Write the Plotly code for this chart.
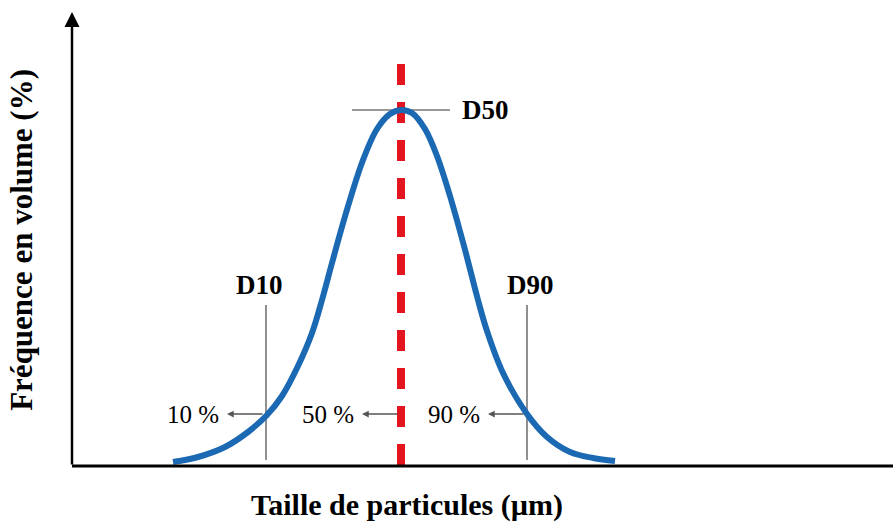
import plotly.graph_objects as go

# Bell curve (arbitrary units)
curve_x = [101, 126, 153, 176, 195, 210, 226, 240, 250, 260, 274, 291, 305, 318, 329,
           340, 353, 365, 378, 392, 406, 415, 431, 455, 475, 498, 521, 543]
curve_y = [4, 9, 19, 34, 51, 70, 100, 133, 166, 203, 253, 306, 337, 352, 356,
           353, 337, 310, 270, 220, 166, 135, 93, 52, 29, 14, 8, 5]

d_labels = ["D10", "D50", "D90"]
d_x = [194, 329, 455]
pct_labels = ["10 %", "50 %", "90 %"]
pct_y = 52
peak_y = 356
marker_top = 161
red_top = 418

X_MAX = 821
Y_MAX = 454

serif = "Liberation Serif, Times New Roman, serif"

fig = go.Figure()

# Red dashed median line
fig.add_trace(go.Scatter(x=[d_x[1], d_x[1]], y=[1, red_top], mode="lines",
                         line=dict(color="#e3161f", width=8, dash="21px,17px"),
                         hoverinfo="skip", showlegend=False))

# D10 / D90 vertical marker lines
for i in (0, 2):
    fig.add_trace(go.Scatter(x=[d_x[i], d_x[i]], y=[6, marker_top], mode="lines",
                             line=dict(color="#6b6b6b", width=1.5),
                             hoverinfo="skip", showlegend=False))

# D50 horizontal line at the peak
fig.add_trace(go.Scatter(x=[d_x[1] - 49, d_x[1] + 49], y=[peak_y, peak_y], mode="lines",
                         line=dict(color="#777777", width=1.5),
                         hoverinfo="skip", showlegend=False))

# Distribution curve
fig.add_trace(go.Scatter(x=curve_x, y=curve_y, mode="lines",
                         line=dict(color="#1c69b3", width=6, shape="spline", smoothing=1.0),
                         hoverinfo="skip", showlegend=False))

dfont = dict(family=serif, size=27, color="black")
pfont = dict(family=serif, size=25, color="black")

annotations = []
# D labels
annotations.append(dict(x=d_x[0] - 7, y=181, text="<b>" + d_labels[0] + "</b>", showarrow=False, font=dfont))
annotations.append(dict(x=d_x[1] + 59, y=peak_y, text="<b>" + d_labels[1] + "</b>", showarrow=False,
                        xanchor="left", font=dfont))
annotations.append(dict(x=d_x[2] + 3, y=181, text="<b>" + d_labels[2] + "</b>", showarrow=False, font=dfont))

# Percent arrows and labels
for i in range(3):
    tip = d_x[i] - 39
    annotations.append(dict(x=tip, y=pct_y, ax=d_x[i] - 2, ay=pct_y, axref="x", ayref="y",
                            xref="x", yref="y", text="", showarrow=True,
                            arrowhead=2, arrowsize=0.9, arrowwidth=1.5, arrowcolor="#555555"))
    annotations.append(dict(x=tip - 6, y=pct_y, text=pct_labels[i], showarrow=False,
                            xanchor="right", font=pfont))

# Y axis arrow
annotations.append(dict(x=0, y=Y_MAX, ax=0, ay=0, axref="x", ayref="y", xref="x", yref="y",
                        text="", showarrow=True, arrowhead=2, arrowsize=1.2, arrowwidth=2.5,
                        arrowcolor="black"))

# Axis titles
annotations.append(dict(xref="paper", yref="paper", x=0.408, y=-0.086, yanchor="middle",
                        text="<b>Taille de particules (µm)</b>", showarrow=False,
                        font=dict(family=serif, size=30, color="black")))
annotations.append(dict(xref="paper", yref="paper", x=-0.061, y=0.498, xanchor="center",
                        yanchor="middle",
                        text="<b>Fréquence en volume (%)</b>", showarrow=False, textangle=-90,
                        font=dict(family=serif, size=31, color="black")))

shapes = [
    dict(type="line", xref="paper", yref="paper", x0=0, x1=1, y0=0, y1=0,
         line=dict(color="black", width=3)),
]

fig.update_layout(
    width=893, height=527,
    margin=dict(l=72, r=0, t=12, b=61, autoexpand=False),
    paper_bgcolor="white", plot_bgcolor="white",
    xaxis=dict(range=[0, X_MAX], visible=False, fixedrange=True),
    yaxis=dict(range=[0, Y_MAX], visible=False, fixedrange=True),
    annotations=annotations,
    shapes=shapes,
    showlegend=False,
)

fig.write_html("out.html", config={"displayModeBar": False},
               post_script="document.body.style.margin='0';document.body.style.overflow='hidden';")
